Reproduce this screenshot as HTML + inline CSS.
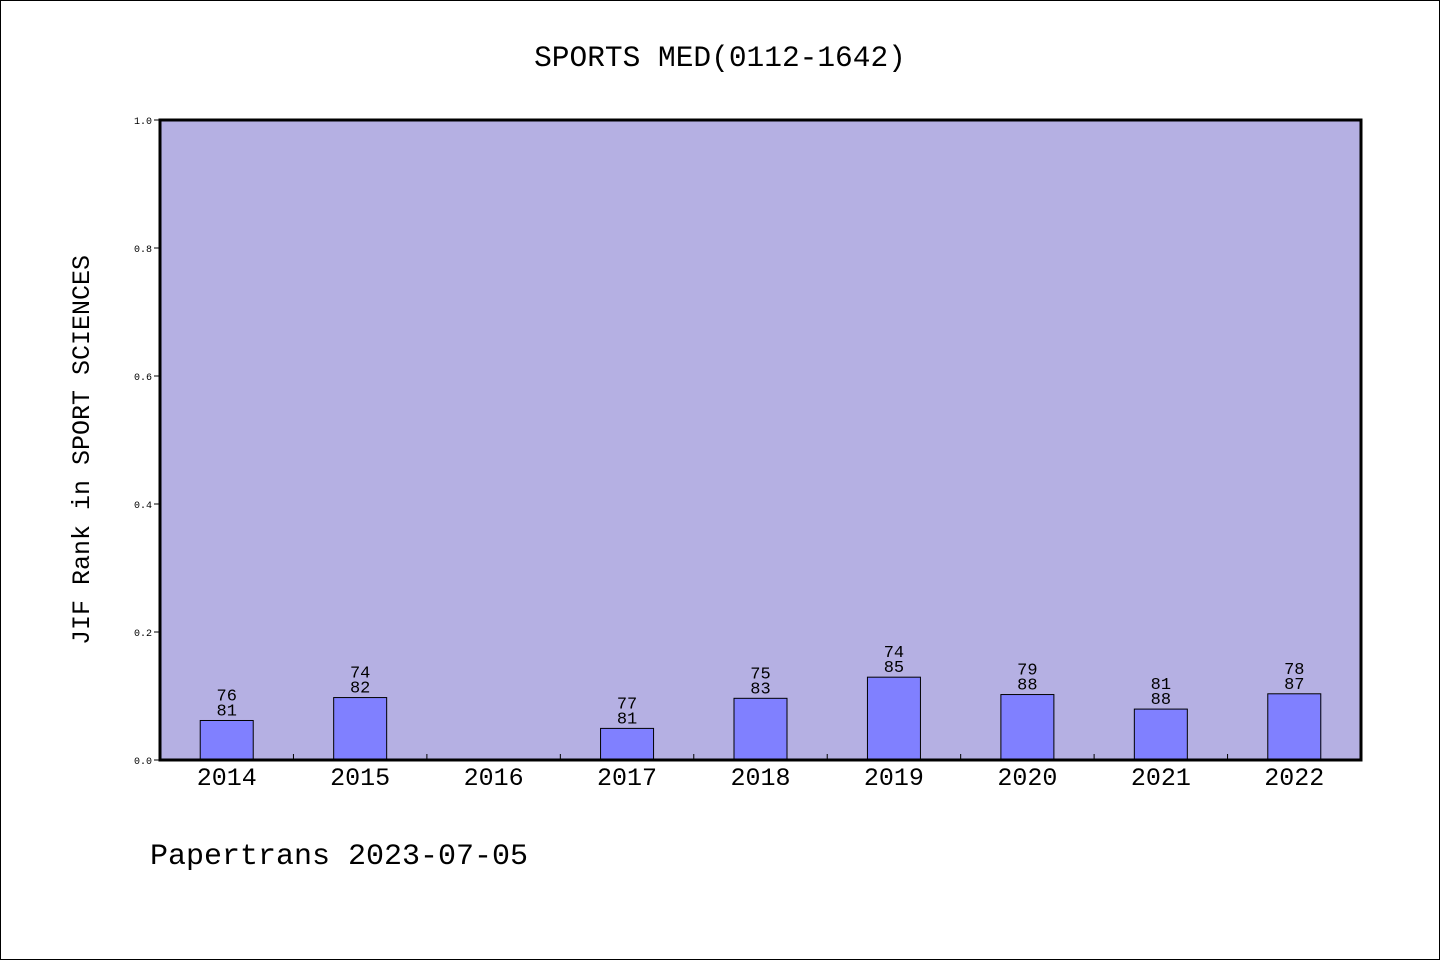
<!DOCTYPE html>
<html><head><meta charset="utf-8"><style>
body{margin:0;background:#fff}
svg text{font-family:"Liberation Mono","DejaVu Sans Mono",monospace;fill:#000}
</style></head><body>
<svg id="c" width="1440" height="960" xmlns="http://www.w3.org/2000/svg">
<rect x="0.5" y="0.5" width="1439" height="959" fill="#fff" stroke="#000"/>
<text x="720" y="66" font-size="29.5" text-anchor="middle">SPORTS MED(0112-1642)</text>
<rect x="160" y="120" width="1201" height="640" fill="#b5b0e3"/>
<g id="marks"></g>
<rect x="160" y="120" width="1201" height="640" fill="none" stroke="#000" stroke-width="3"/>
<text transform="translate(89,450) rotate(-90)" font-size="25" text-anchor="middle">JIF Rank in SPORT SCIENCES</text>
<text x="150" y="864" font-size="30">Papertrans 2023-07-05</text>
</svg>
<script>
const years=["2014","2015","2016","2017","2018","2019","2020","2021","2022"];
const ranks=[76,74,null,77,75,74,79,81,78];
const totals=[81,82,null,81,83,85,88,88,87];
const yTicks=[0,0.2,0.4,0.6,0.8,1.0];
const ns="http://www.w3.org/2000/svg";
const g=document.getElementById('marks');
const X0=160,W=1201,Y0=760,H=640,step=W/years.length,bw=53;
const ys=v=>Y0-v*H;
const xc=i=>X0+step*(i+0.5);
function mk(t,a,txt){const e=document.createElementNS(ns,t);for(const k in a)e.setAttribute(k,a[k]);if(txt!=null)e.textContent=txt;g.appendChild(e);return e;}
yTicks.forEach(v=>{
 const l=mk('line',{x1:154,x2:160,y1:ys(v),y2:ys(v),stroke:'#000'});
 
 
 const t=mk('text',{x:152,y:ys(v)+4,'font-size':10,'text-anchor':'end'},v.toFixed(1));
 
 
});
years.forEach((y,i)=>{
 if(i>0){const tk=mk('line',{x1:X0+step*i,x2:X0+step*i,y1:Y0,y2:Y0-6,stroke:'#000'});
 
 }
 const lb=mk('text',{x:xc(i),y:785,'font-size':25,'text-anchor':'middle'},y);
 
 
 if(ranks[i]==null)return;
 const v=1-ranks[i]/totals[i];
 const b=mk('rect',{x:xc(i)-bw/2,y:ys(v),width:bw,height:Y0-ys(v),fill:'#8080ff',stroke:'#000','stroke-width':1});
 
 
 const t1=mk('text',{x:xc(i),y:ys(v)-20,'font-size':17,'text-anchor':'middle'},String(ranks[i]));
 
 
 const t2=mk('text',{x:xc(i),y:ys(v)-5,'font-size':17,'text-anchor':'middle'},String(totals[i]));
 
 
});
</script>
</body></html>
